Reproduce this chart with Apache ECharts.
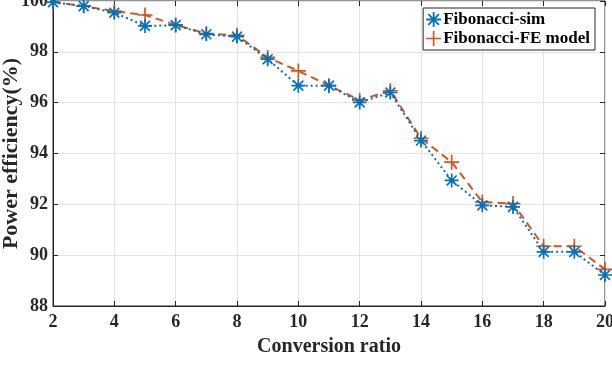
<!DOCTYPE html>
<html>
<head>
<meta charset="utf-8">
<script src="https://cdn.jsdelivr.net/npm/echarts@6/dist/echarts.min.js"></script>
<style>
  html, body { margin: 0; padding: 0; background: #fff; }
  #chart { width: 612px; height: 368px; }
</style>
</head>
<body>
<div id="chart"></div>
<script>
// data
var ratios = [2, 3, 4, 5, 6, 7, 8, 9, 10, 11, 12, 13, 14, 15, 16, 17, 18, 19, 20];
var simEff = [99.95, 99.8, 99.54, 99.02, 99.05, 98.69, 98.6, 97.71, 96.67, 96.67, 96.01, 96.4, 94.51, 92.94, 91.96, 91.9, 90.13, 90.13, 89.22];
var feEff = [99.95, 99.8, 99.6, 99.45, 99.06, 98.72, 98.65, 97.78, 97.25, 96.67, 96.1, 96.47, 94.6, 93.66, 92.09, 92.03, 90.35, 90.35, 89.44];
var xTicks = { min: 2, max: 20, step: 2 };
var yTicks = { min: 88, max: 100, step: 2 };

var blue = '#0072BD';
var orange = '#D95319';
var axisColor = '#262626';
var fontFam = '"Liberation Serif", "DejaVu Serif", serif';

// matlab style markers, drawn as filled bars
var asterisk = 'path://M-1.2,-10L1.2,-10L1.2,10L-1.2,10Z' +
    'M-10,-1.2L10,-1.2L10,1.2L-10,1.2Z' +
    'M-7.92,-6.22L-6.22,-7.92L7.92,6.22L6.22,7.92Z' +
    'M-6.22,7.92L-7.92,6.22L6.22,-7.92L7.92,-6.22Z';
var plus = 'path://M-1.1,-10L1.1,-10L1.1,10L-1.1,10Z' +
    'M-10,-1.1L10,-1.1L10,1.1L-10,1.1Z';

function pairs(xs, ys) {
    return xs.map(function (x, i) { return [x, ys[i]]; });
}

var labelStyle = {
    color: axisColor,
    fontFamily: fontFam,
    fontWeight: 'bold',
    fontSize: 18
};

var chart = echarts.init(document.getElementById('chart'));

var option = {
    animation: false,
    backgroundColor: '#fff',
    grid: {
        left: 53,
        right: 7,
        top: 1,
        bottom: 62,
        outerBoundsMode: 'none',
        containLabel: false,
        show: true,
        borderColor: axisColor,
        borderWidth: 1
    },
    legend: {
        orient: 'vertical',
        right: 17,
        top: 8,
        padding: [3, 5, 3, 3],
        itemGap: 2,
        itemWidth: 15,
        itemHeight: 15,
        borderColor: axisColor,
        borderWidth: 1,
        backgroundColor: '#fff',
        textStyle: {
            color: '#000',
            fontFamily: fontFam,
            fontWeight: 'bold',
            fontSize: 17,
            padding: [0, 0, 0, -3]
        },
        data: [
            { name: 'Fibonacci-sim', icon: asterisk },
            { name: 'Fibonacci-FE model', icon: plus }
        ]
    },
    xAxis: [{
        type: 'value',
        min: xTicks.min,
        max: xTicks.max,
        interval: xTicks.step,
        name: 'Conversion ratio',
        nameLocation: 'middle',
        nameGap: 31,
        nameMoveOverlap: false,
        nameTextStyle: {
            color: axisColor,
            fontFamily: fontFam,
            fontWeight: 'bold',
            fontSize: 20
        },
        axisLine: { lineStyle: { color: axisColor } },
        axisTick: { inside: true, length: 5, lineStyle: { color: axisColor } },
        axisLabel: Object.assign({ margin: 7 }, labelStyle),
        splitLine: { show: true, lineStyle: { color: '#e3e3e3' } }
    }, {
        type: 'value',
        position: 'top',
        min: xTicks.min,
        max: xTicks.max,
        interval: xTicks.step,
        axisLine: { show: false },
        axisTick: { inside: true, length: 5, lineStyle: { color: axisColor } },
        axisLabel: { show: false },
        splitLine: { show: false }
    }],
    yAxis: [{
        type: 'value',
        min: yTicks.min,
        max: yTicks.max,
        interval: yTicks.step,
        name: 'Power efficiency(%)',
        nameLocation: 'middle',
        nameGap: 31,
        nameMoveOverlap: false,
        nameTextStyle: {
            color: axisColor,
            fontFamily: fontFam,
            fontWeight: 'bold',
            fontSize: 22
        },
        axisLine: { show: true, lineStyle: { color: axisColor } },
        axisTick: { show: true, inside: true, length: 5, lineStyle: { color: axisColor } },
        axisLabel: Object.assign({ margin: 5 }, labelStyle),
        splitLine: { show: true, lineStyle: { color: '#e3e3e3' } }
    }, {
        type: 'value',
        position: 'right',
        min: yTicks.min,
        max: yTicks.max,
        interval: yTicks.step,
        axisLine: { show: false },
        axisTick: { show: true, inside: true, length: 5, lineStyle: { color: axisColor } },
        axisLabel: { show: false },
        splitLine: { show: false }
    }],
    series: [{
        name: 'Fibonacci-FE model',
        type: 'line',
        data: pairs(ratios, feEff),
        symbol: plus,
        symbolSize: 15,
        itemStyle: { color: orange },
        lineStyle: { color: orange, width: 2, type: [8, 5] },
        z: 2
    }, {
        name: 'Fibonacci-sim',
        type: 'line',
        data: pairs(ratios, simEff),
        symbol: asterisk,
        symbolSize: 14,
        itemStyle: { color: blue },
        lineStyle: { color: blue, width: 2, type: [2, 3] },
        z: 3
    }]
};

chart.setOption(option);
</script>
</body>
</html>
